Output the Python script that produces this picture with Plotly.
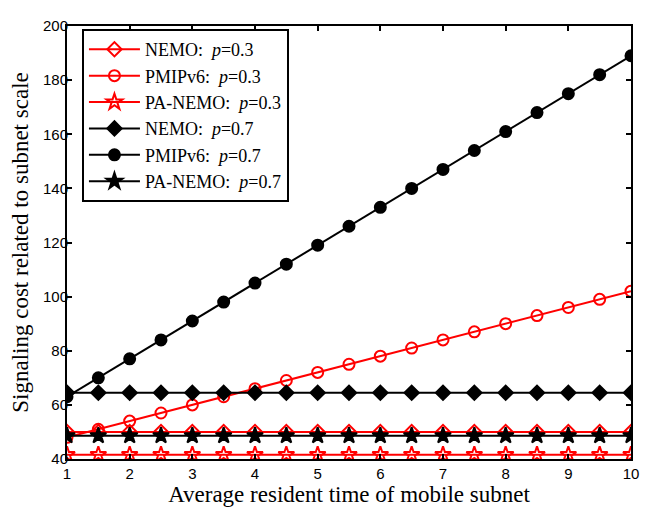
import plotly.graph_objects as go

x_vals = [1, 1.5, 2, 2.5, 3, 3.5, 4, 4.5, 5, 5.5, 6, 6.5, 7, 7.5, 8, 8.5, 9, 9.5, 10]
nemo_03 = [50] * 19
pmip_03 = [48, 51, 54, 57, 60, 63, 66, 69, 72, 75, 78, 81, 84, 87, 90, 93, 96, 99, 102]
panemo_03 = [41.6] * 19
nemo_07 = [64.5] * 19
pmip_07 = [63, 70, 77, 84, 91, 98, 105, 112, 119, 126, 133, 140, 147, 154, 161, 168, 175, 182, 189]
panemo_07 = [48.6] * 19

series = [
    ("NEMO:  <i>p</i>=0.3", nemo_03, "red", "diamond-open"),
    ("PMIPv6:  <i>p</i>=0.3", pmip_03, "red", "circle-open"),
    ("PA-NEMO:  <i>p</i>=0.3", panemo_03, "red", "star-open"),
    ("NEMO:  <i>p</i>=0.7", nemo_07, "black", "diamond"),
    ("PMIPv6:  <i>p</i>=0.7", pmip_07, "black", "circle"),
    ("PA-NEMO:  <i>p</i>=0.7", panemo_07, "black", "star"),
]

fig = go.Figure()
for name, ys, col, sym in series:
    fig.add_trace(go.Scatter(
        x=x_vals, y=ys, name=name, mode="lines+markers",
        line=dict(color=col, width=2),
        marker=dict(symbol=sym, size=12 if "star" in sym else 11, color=col,
                    line=dict(color=col, width=2)),
    ))

axis_common = dict(
    showline=True, linecolor="black", linewidth=2, mirror="ticks",
    ticks="inside", ticklen=5, tickwidth=2, tickcolor="black",
    showgrid=False, zeroline=False,
    tickfont=dict(family="Liberation Sans, Arial", size=15, color="black"),
)

title_font = dict(family="Liberation Serif, Times New Roman", size=23, color="black")

fig.update_layout(
    width=640, height=500,
    margin=dict(l=59, r=9, t=9, b=49),
    paper_bgcolor="white", plot_bgcolor="white",
    xaxis=dict(range=[1, 10], tickvals=list(range(1, 11)),
               ticklabelstandoff=0,
               title=dict(text="Average resident time of mobile subnet",
                          font=title_font, standoff=0),
               **axis_common),
    yaxis=dict(range=[40, 200], tickvals=list(range(40, 201, 20)),
               ticklabelstandoff=-6,
               title=dict(text="Signaling cost related to subnet scale",
                          font=title_font, standoff=10),
               **axis_common),
    legend=dict(x=0.0265, y=0.993, xanchor="left", yanchor="top",
                bgcolor="white", bordercolor="black", borderwidth=2,
                itemwidth=51, tracegroupgap=0,
                font=dict(family="Liberation Serif, Times New Roman", size=18, color="black")),
)

fig.write_html("out.html")
